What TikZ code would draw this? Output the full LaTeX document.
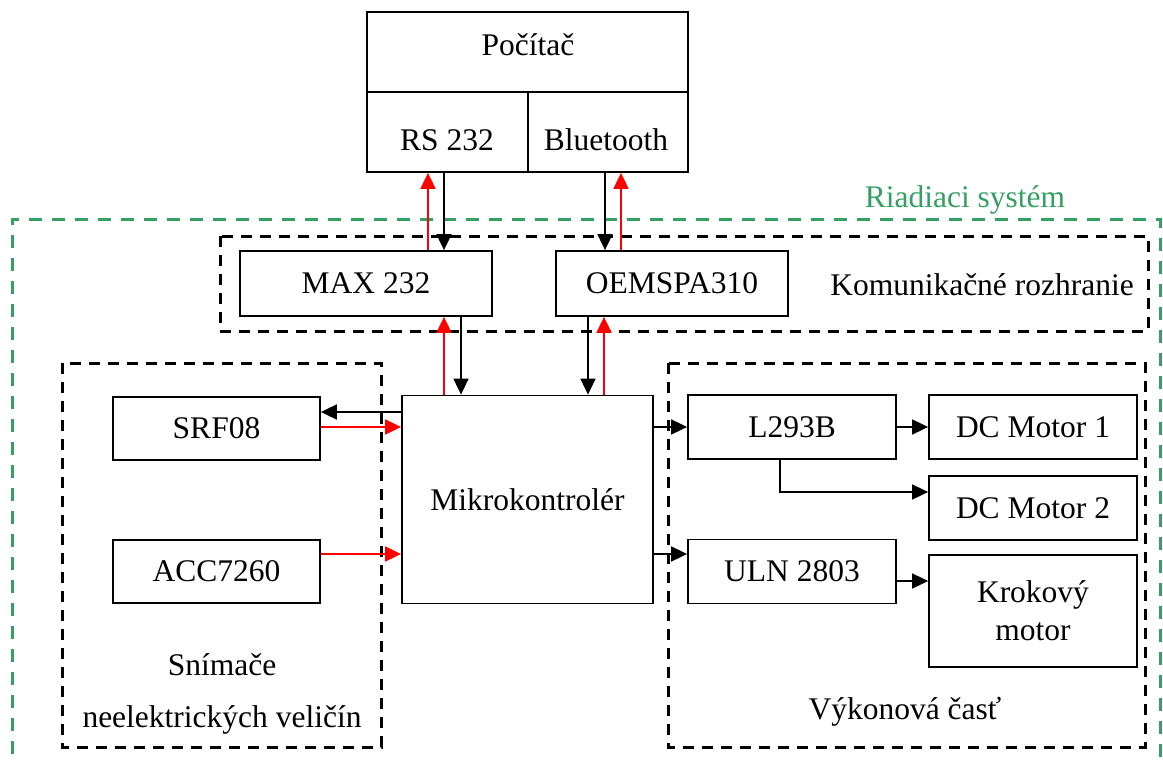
\documentclass[tikz,border=0pt]{standalone}
\usepackage{fontspec}
\setmainfont{Liberation Serif}
\usetikzlibrary{arrows.meta}
\definecolor{grn}{RGB}{52,160,100}
\begin{document}
\begin{tikzpicture}[x=1pt,y=-1pt,
  font=\fontsize{31.5}{38}\selectfont,
  blk/.style={draw,line width=1.8pt,inner sep=0pt},
  grp/.style={draw,line width=3pt,dash pattern=on 11pt off 8pt},
  arr/.style={line width=1.8pt,-{Triangle[length=16pt,width=15pt]}},
  rarr/.style={arr,red},
  lbl/.style={inner sep=0pt,anchor=center}]
\useasboundingbox (0,0) rectangle (1163,760);
% green system frame
\draw[grn,line width=3pt,dash pattern=on 13pt off 10pt] (12,800) -- (12,219) -- (1160,219) -- (1160,800);
\node[lbl,text=grn] (rs) at (965,200) {Riadiaci systém};
% group frames
\draw[grp] (220,236) rectangle (1148,331);
\draw[grp] (62,363) rectangle (381,747);
\draw[grp] (668,363) rectangle (1145,747);
\node[lbl] (kr) at (982,285) {Komunikačné rozhranie};
\node[lbl] (sn1) at (222,665) {Snímače};
\node[lbl] (sn2) at (222,720) {neelektrických veličín};
\node[lbl] (vk) at (905,712) {Výkonová časť};
% computer
\node[draw,line width=1.8pt,inner sep=0pt,minimum width=321pt,minimum height=160pt] (pcbox) at (527.5,92) {};
\draw[line width=1.8pt] (pcbox.west |- 0,92) -- (pcbox.east |- 0,92) (528,92) -- (pcbox.south -| 528,0);
\node[lbl] (pc) at (528,45) {Počítač};
\node[lbl] (rs232) at (447,140) {RS 232};
\node[lbl] (bt) at (606,140) {Bluetooth};
% blocks
\node[blk,minimum width=252pt,minimum height=65pt] (max) at (366,283.5) {MAX 232};
\node[blk,minimum width=232pt,minimum height=65pt] (oem) at (672,283.5) {OEMSPA310};
\node[blk,minimum width=251pt,minimum height=208pt] (mcu) at (527.5,499.5) {Mikrokontrolér};
\node[blk,minimum width=207pt,minimum height=63pt] (srf) at (216.5,428.5) {SRF08};
\node[blk,minimum width=207pt,minimum height=63pt] (acc) at (216.5,571.5) {ACC7260};
\node[blk,minimum width=208pt,minimum height=64pt] (l293) at (792,427) {L293B};
\node[blk,minimum width=208pt,minimum height=64pt] (uln) at (792,571.5) {ULN 2803};
\node[blk,minimum width=208pt,minimum height=64pt] (dc1) at (1033,427) {DC Motor 1};
\node[blk,minimum width=208pt,minimum height=64pt] (dc2) at (1033,508) {DC Motor 2};
\node[blk,minimum width=208pt,minimum height=112pt,align=center] (kro) at (1033,611) {Krokový\\motor};
% computer <-> comm
\draw[rarr] (max.north -| 428,0) -- (pcbox.south -| 428,0);
\draw[arr] (pcbox.south -| 444,0) -- (max.north -| 444,0);
\draw[arr] (pcbox.south -| 605,0) -- (oem.north -| 605,0);
\draw[rarr] (oem.north -| 621,0) -- (pcbox.south -| 621,0);
% comm <-> mcu
\draw[rarr] (mcu.north -| 444,0) -- (max.south -| 444,0);
\draw[arr] (max.south -| 461,0) -- (mcu.north -| 461,0);
\draw[arr] (oem.south -| 588,0) -- (mcu.north -| 588,0);
\draw[rarr] (mcu.north -| 604,0) -- (oem.south -| 604,0);
% sensors
\draw[arr] (mcu.west |- 0,412) -- (srf.east |- 0,412);
\draw[rarr] (srf.east |- 0,427) -- (mcu.west |- 0,427);
\draw[rarr] (acc.east |- 0,554) -- (mcu.west |- 0,554);
% power part
\draw[arr] (mcu.east |- 0,427) -- (l293.west |- 0,427);
\draw[arr] (mcu.east |- 0,554) -- (uln.west |- 0,554);
\draw[arr] (l293.east) -- (dc1.west);
\draw[arr] (l293.south -| 780,0) |- (dc2.west |- 0,492);
\draw[arr] (uln.east |- 0,581) -- (kro.west |- 0,581);
\end{tikzpicture}
\end{document}
